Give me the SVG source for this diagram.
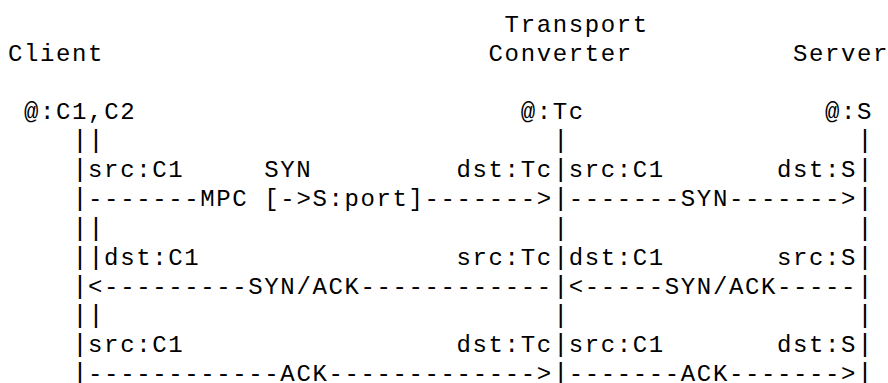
<svg xmlns="http://www.w3.org/2000/svg" width="888" height="383" viewBox="0 0 888 383" xml:space="preserve">
  <style>
    text { font-family: "Liberation Mono", "DejaVu Sans Mono", monospace; font-size: 24px; letter-spacing: 1.62px; fill: #000; white-space: pre; }
    .bar { font-size: 26.5px; letter-spacing: 0; }
  </style>
  <rect width="888" height="383" fill="#fff"/>

  <!-- character grid: x = 8 + 16.02*col, baseline y = 31.5 + 29.15*row -->

  <g id="client">
    <text x="8" y="60.65">Client</text>
    <text x="24.02" y="118.95">@:C1,C2</text>
  </g>

  <g id="converter">
    <text x="504.62" y="31.5">Transport</text>
    <text x="488.6" y="60.65">Converter</text>
    <text x="520.64" y="118.95">@:Tc</text>
  </g>

  <g id="server">
    <text x="792.98" y="60.65">Server</text>
    <text x="825.02" y="118.95">@:S</text>
  </g>

  <!-- lifelines drawn as bar characters, one per row -->
  <g id="lifelines">
    <text class="bar"><tspan x="72.08" y="148.1">|</tspan><tspan x="72.08" y="177.25">|</tspan><tspan x="72.08" y="206.4">|</tspan><tspan x="72.08" y="235.55">|</tspan><tspan x="72.08" y="264.7">|</tspan><tspan x="72.08" y="293.85">|</tspan><tspan x="72.08" y="323">|</tspan><tspan x="72.08" y="352.15">|</tspan></text>
    <text class="bar"><tspan x="88.1" y="148.1">|</tspan><tspan x="88.1" y="235.55">|</tspan><tspan x="88.1" y="264.7">|</tspan><tspan x="88.1" y="323">|</tspan></text>
    <text class="bar"><tspan x="552.68" y="148.1">|</tspan><tspan x="552.68" y="177.25">|</tspan><tspan x="552.68" y="206.4">|</tspan><tspan x="552.68" y="235.55">|</tspan><tspan x="552.68" y="264.7">|</tspan><tspan x="552.68" y="293.85">|</tspan><tspan x="552.68" y="323">|</tspan><tspan x="552.68" y="352.15">|</tspan></text>
    <text class="bar"><tspan x="857.06" y="148.1">|</tspan><tspan x="857.06" y="177.25">|</tspan><tspan x="857.06" y="206.4">|</tspan><tspan x="857.06" y="235.55">|</tspan><tspan x="857.06" y="264.7">|</tspan><tspan x="857.06" y="293.85">|</tspan><tspan x="857.06" y="323">|</tspan><tspan x="857.06" y="352.15">|</tspan></text>
    <!-- bottom row of bars runs off the lower edge -->
    <text class="bar"><tspan x="72.08" y="380.5">|</tspan><tspan x="552.68" y="380.5">|</tspan><tspan x="857.06" y="380.5">|</tspan></text>
  </g>

  <g id="connectors">
    <!-- SYN with MPC option -->
    <text x="88.1" y="177.25">src:C1</text>
    <text x="264.32" y="177.25">SYN</text>
    <text x="456.56" y="177.25">dst:Tc</text>
    <text x="568.7" y="177.25">src:C1</text>
    <text x="776.96" y="177.25">dst:S</text>
    <text x="88.1" y="206.4">-------MPC [-&gt;S:port]-------&gt;</text>
    <text x="568.7" y="206.4">-------SYN-------&gt;</text>

    <!-- SYN/ACK -->
    <text x="104.12" y="264.7">dst:C1</text>
    <text x="456.56" y="264.7">src:Tc</text>
    <text x="568.7" y="264.7">dst:C1</text>
    <text x="776.96" y="264.7">src:S</text>
    <text x="88.1" y="293.85">&lt;---------SYN/ACK------------</text>
    <text x="568.7" y="293.85">&lt;-----SYN/ACK-----</text>

    <!-- ACK -->
    <text x="88.1" y="352.15">src:C1</text>
    <text x="456.56" y="352.15">dst:Tc</text>
    <text x="568.7" y="352.15">src:C1</text>
    <text x="776.96" y="352.15">dst:S</text>
    <text x="88.1" y="381.3">------------ACK-------------&gt;</text>
    <text x="568.7" y="381.3">-------ACK-------&gt;</text>
  </g>
</svg>
